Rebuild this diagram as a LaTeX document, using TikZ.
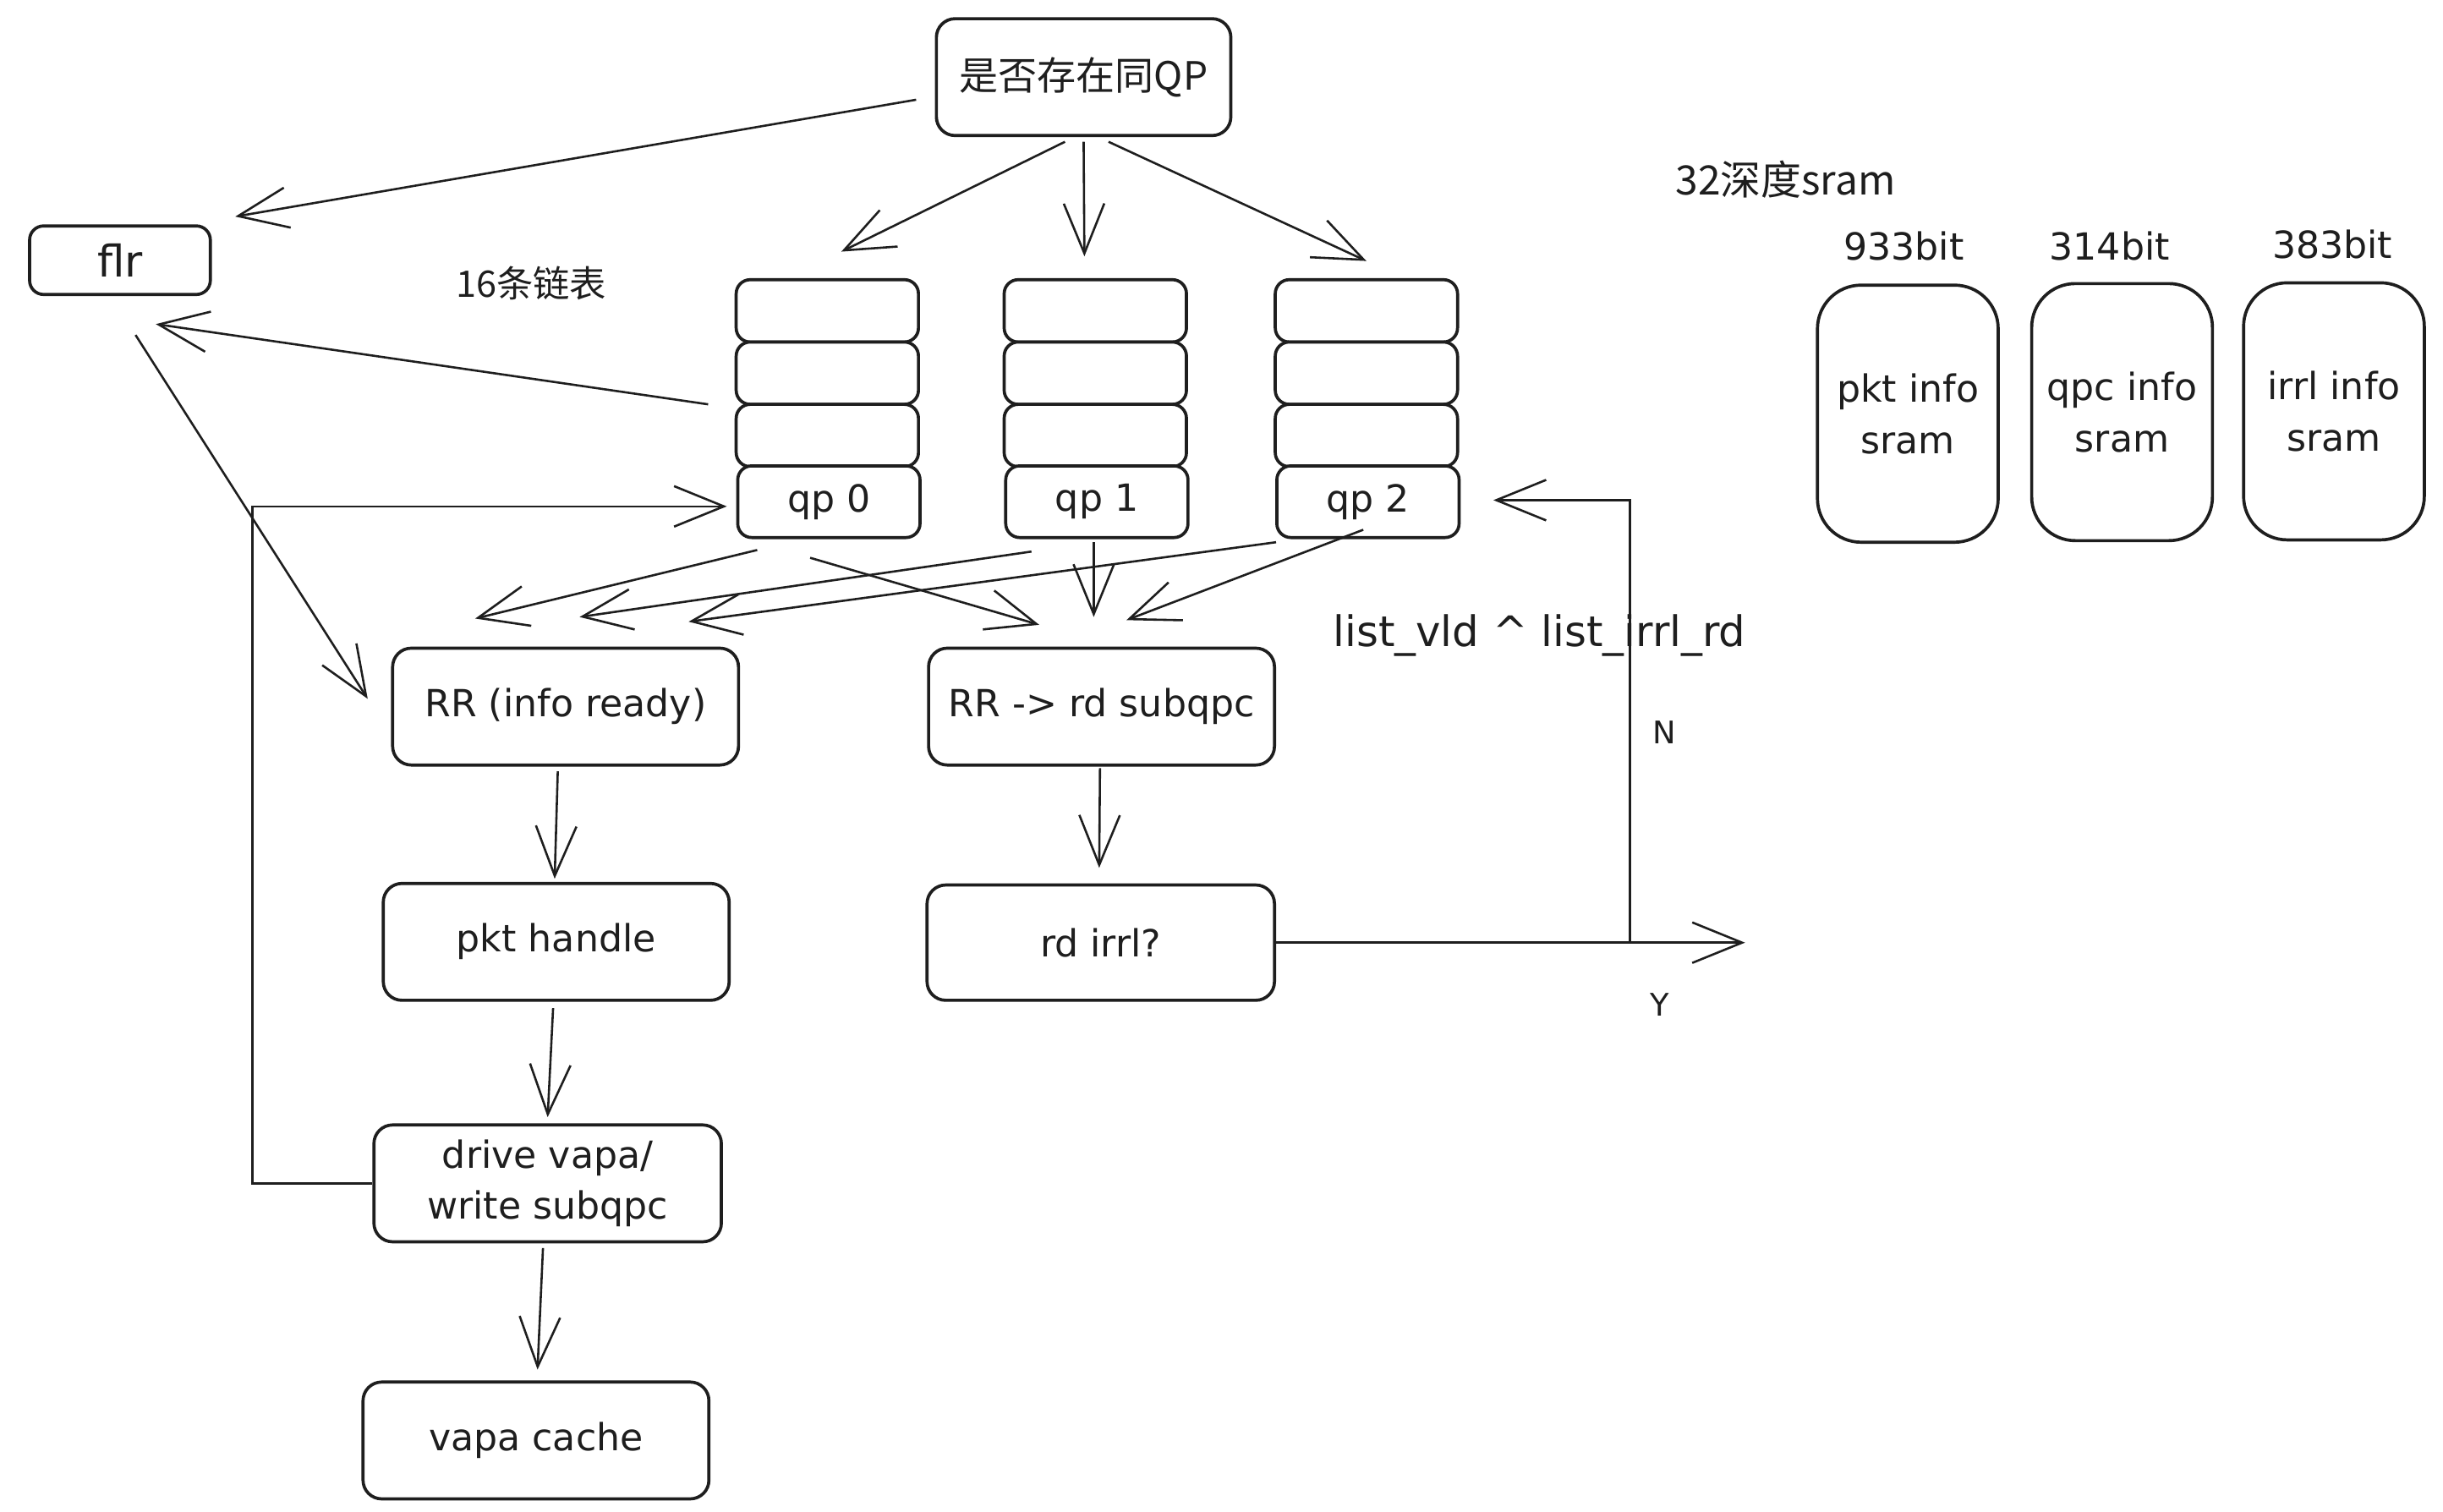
\documentclass[tikz,border=0pt]{standalone}
\usepackage{fontspec}
\setmainfont{DejaVu Sans}
\newfontfamily\cjk{Noto Sans CJK SC}
\usetikzlibrary{arrows.meta,calc}
\definecolor{ink}{HTML}{1E1E1E}

\begin{document}
\begin{tikzpicture}[x=1pt,y=-1pt,
  box/.style={draw=ink, line width=2pt, rounded corners=12pt, fill=white,
              inner sep=0pt, align=center, text=ink,
              font=\fontsize{24}{33}\selectfont},
  cell/.style={box, rounded corners=9pt, minimum width=117pt},
  srambox/.style={box, rounded corners=28pt, minimum width=116pt, minimum height=165pt},
  arr/.style={draw=ink, line width=1.4pt,
              -{Straight Barb[length=32pt,width=26pt,line width=1.4pt]}},
  lbl/.style={inner sep=0pt, text=ink, font=\fontsize{24}{28}\selectfont},
  cjklbl/.style={inner sep=0pt, text=ink},
]
% canvas
\fill[white] (0,0) rectangle (1568,970);
\useasboundingbox (0,0) rectangle (1568,970);

% decision at the top
\node[box, minimum width=189pt, minimum height=75pt,
      font=\cjk\fontsize{25}{30}\selectfont] (top) at (695.5,49.5) {是否存在同QP};

\node[box, minimum width=116pt, minimum height=44pt, rounded corners=9pt,
      font=\fontsize{28}{30}\selectfont] (flr) at (77,167) {flr};
\node[cjklbl, font=\cjk\fontsize{23.5}{27}\selectfont] (lists) at (341,182) {16条链表};

% three linked lists
\node[cell, minimum height=40pt] (s0a) at (531,199.5) {};
\node[cell, minimum height=40pt] (s0b) at (531,239.5) {};
\node[cell, minimum height=40pt] (s0c) at (531,279.5) {};
\node[cell, minimum height=46pt] (qp0) at (532,322) {qp 0};

\node[cell, minimum height=40pt] (s1a) at (703,199.5) {};
\node[cell, minimum height=40pt] (s1b) at (703,239.5) {};
\node[cell, minimum height=40pt] (s1c) at (703,279.5) {};
\node[cell, minimum height=46pt] (qp1) at (704,322) {qp 1};

\node[cell, minimum height=40pt] (s2a) at (877,199.5) {};
\node[cell, minimum height=40pt] (s2b) at (877,239.5) {};
\node[cell, minimum height=40pt] (s2c) at (877,279.5) {};
\node[cell, minimum height=46pt] (qp2) at (878,322) {qp 2};

% processing chain
\node[box, minimum width=222pt, minimum height=75pt] (rri)    at (363,453.5) {RR (info ready)};
\node[box, minimum width=222pt, minimum height=75pt] (rrs)    at (707,453.5) {RR -> rd subqpc};
\node[box, minimum width=222pt, minimum height=75pt] (pkt)    at (357,604.5) {pkt handle};
\node[box, minimum width=223pt, minimum height=74pt] (rdirrl) at (706.5,605) {rd irrl?};
\node[box, minimum width=223pt, minimum height=75pt] (drive)  at (351.5,759.5) {drive vapa/\\write subqpc};
\node[box, minimum width=222pt, minimum height=75pt] (vapa)   at (344,924.5) {vapa cache};

% sram blocks
\node[cjklbl, font=\cjk\fontsize{26}{30}\selectfont] (depth) at (1146,115) {32深度sram};
\node[lbl] (w0) at (1222,158) {933bit};
\node[lbl] (w1) at (1354,158) {314bit};
\node[lbl] (w2) at (1497,157) {383bit};
\node[srambox] (pinfo) at (1224.5,265.5) {pkt info\\sram};
\node[srambox] (qinfo) at (1362,264.5) {qpc info\\sram};
\node[srambox] (iinfo) at (1498,264) {irrl info\\sram};

% condition labels
\node[lbl, font=\fontsize{27}{30}\selectfont] (cond) at (988,408) {list\_vld \^{} list\_irrl\_rd};
\node[lbl, font=\fontsize{20}{22}\selectfont] (nlab) at (1068,470) {N};
\node[lbl, font=\fontsize{20}{22}\selectfont] (ylab) at (1065,645) {Y};

% connectors from the decision
\draw[arr] ($(top.west)+(-12,14.5)$) -- ($(flr.north east)+(15,-5)$);
\draw[arr] ($(top.south)+(-12,3)$) -- ($(s0a.north)+(9,-17)$);
\draw[arr] ($(top.south)+(0,3)$) -- ($(s1a.north)+(-7,-14)$);
\draw[arr] ($(top.south)+(16,3)$) -- ($(s2a.north)+(0,-11)$);

% flr links
\draw[arr] ($(s0c.north west)+(-17,1)$) -- ($(flr.south)+(23,18)$);
\draw[arr] ($(flr.south)+(10,25)$) -- ($(rri.west)+(-15,-5)$);

% feedback from drive back into qp 0
\draw[arr] (drive.west) -- ++(-77,0) |- ($(qp0.west)+(-6,3)$);

% lists into the two round-robin arbiters
\draw[arr] ($(qp0.south)+(-46,7)$) -- ($(rri.north)+(-58,-18)$);
\draw[arr] ($(qp0.south)+(-12,12)$) -- ($(rrs.north)+(-40,-14)$);
\draw[arr] ($(qp1.south)+(-42,8)$) -- ($(rri.north)+(9,-19)$);
\draw[arr] ($(qp2.south)+(-59,2)$) -- ($(rri.north)+(79,-16)$);
\draw[arr] ($(qp1.south)+(-2,2)$) -- ($(rrs.north)+(-5,-19)$);
\draw[arr] ($(qp2.south)+(-3,-6)$) -- ($(rrs.north)+(16,-17)$);

% vertical chains
\draw[arr] ($(rri.south)+(-5,3)$) -- ($(pkt.north)+(-1,-2)$);
\draw[arr] ($(rrs.south)+(-1,1)$) -- ($(rdirrl.north)+(-1,-10)$);
\draw[arr] ($(pkt.south)+(-2,4)$) -- ($(drive.north)+(0,-4)$);
\draw[arr] ($(drive.south)+(-3,3)$) -- ($(vapa.north)+(1,-7)$);

% irrl decision outputs
\coordinate (yend) at (1120,605);
\coordinate (split) at (1046,605);
\draw[arr] (rdirrl.east) -- (yend);
\draw[arr] (split) |- ($(qp2.east)+(21,-1)$);

\end{tikzpicture}
\end{document}
